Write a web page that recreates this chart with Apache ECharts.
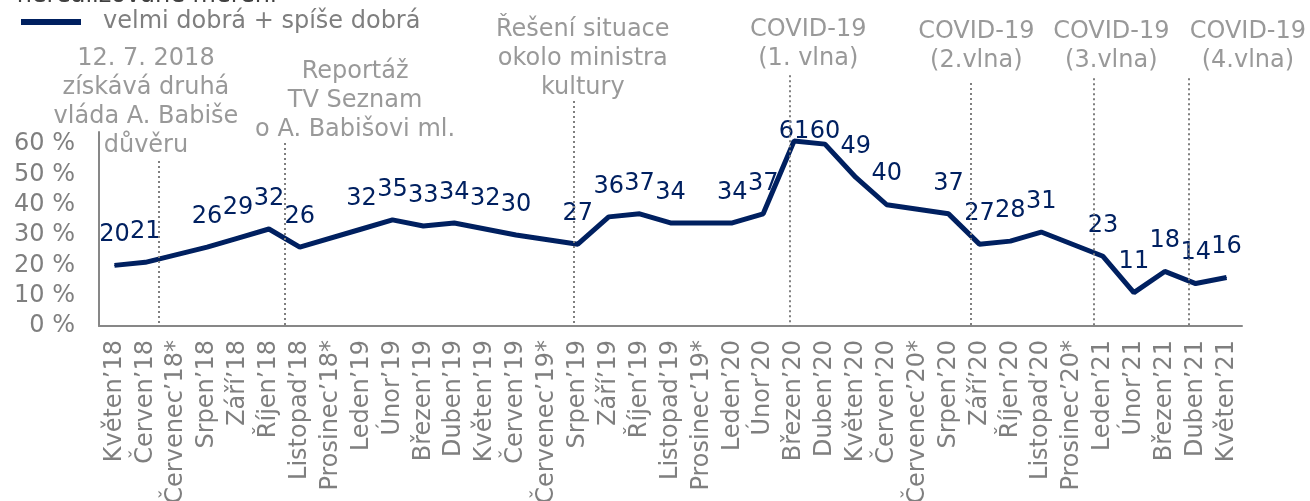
<!DOCTYPE html>
<html>
  <head>
    <meta charset="utf-8" />
    <script src="https://cdn.jsdelivr.net/npm/echarts@6.0.0/dist/echarts.min.js"></script>
  </head>
  <body style="margin: 0">
    <div id="main" style="width: 1310px; height: 501px"></div>

    <script type="text/javascript">
      // months on the x axis (* = no survey that month)
      var months = [
        "Květen’18", "Červen’18", "Červenec’18*", "Srpen’18", "Září’18", "Říjen’18",
        "Listopad’18", "Prosinec’18*", "Leden’19", "Únor’19", "Březen’19", "Duben’19",
        "Květen’19", "Červen’19", "Červenec’19*", "Srpen’19", "Září’19", "Říjen’19",
        "Listopad’19", "Prosinec’19*", "Leden’20", "Únor’20", "Březen’20", "Duben’20",
        "Květen’20", "Červen’20", "Červenec’20*", "Srpen’20", "Září’20", "Říjen’20",
        "Listopad’20", "Prosinec’20*", "Leden’21", "Únor’21", "Březen’21", "Duben’21",
        "Květen’21"
      ];

      // velmi dobrá + spíše dobrá, in %
      var goodShare = [
        20, 21, null, 26, 29, 32,
        26, null, 32, 35, 33, 34,
        32, 30, null, 27, 36, 37,
        34, null, 34, 37, 61, 60,
        49, 40, null, 37, 27, 28,
        31, null, 23, 11, 18, 14,
        16
      ];

      // events: where the dotted line sits (in month units) and how high it reaches (%)
      var eventAt = [1.93, 6.01, 15.37, 22.37, 28.23, 32.21, 35.29];
      var eventTop = [54.5, 60.4, 74.3, 82.8, 80.2, 81.8, 81.8];
      var eventText = [
        "12. 7. 2018\nzískává druhá\nvláda A. Babiše\ndůvěru",
        "Reportáž\nTV Seznam\no A. Babišovi ml.",
        "Řešení situace\nokolo ministra\nkultury",
        "COVID-19\n(1. vlna)",
        "COVID-19\n(2.vlna)",
        "COVID-19\n(3.vlna)",
        "COVID-19\n(4.vlna)"
      ];
      var eventTextX = [1.52, 8.29, 15.66, 22.96, 28.4, 32.77, 37.19];
      var eventTextY = [73.9, 74.4, 88.1, 92.9, 92.2, 92.2, 92.2];

      var gray = "#7f7f7f";
      var navy = "#002060";
      var font = "DejaVu Sans";

      var myChart = echarts.init(document.getElementById("main"));

      var eventLines = eventAt.map(function (x, i) {
        return [{ coord: [x, eventTop[i]] }, { coord: [x, 0] }];
      });
      var eventLabels = eventText.map(function (t, i) {
        return { value: [eventTextX[i], eventTextY[i]], name: t };
      });

      var option = {
        animation: false,
        textStyle: { fontFamily: font },
        title: {
          text: "* nerealizované měření",
          left: -8,
          top: -21,
          textStyle: { fontSize: 24, fontWeight: "normal", color: "#404040", fontFamily: font },
        },
        legend: {
          left: 21,
          top: 10,
          padding: 0,
          icon: "rect",
          itemWidth: 60,
          itemHeight: 6,
          data: ["velmi dobrá + spíše dobrá"],
          textStyle: { color: gray, fontSize: 24, padding: [0, 0, 0, 17], fontFamily: font },
        },
        grid: [
          { left: 99, right: 68, top: 132, bottom: 175, containLabel: false, outerBoundsMode: "none" },
          { left: 99, right: 68, top: 0, bottom: 175, containLabel: false, outerBoundsMode: "none" },
        ],
        xAxis: [
          {
            type: "category",
            gridIndex: 0,
            data: months,
            boundaryGap: true,
            axisTick: { show: false },
            axisLine: { lineStyle: { color: "#878787", width: 2 } },
            axisLabel: {
              interval: 0,
              rotate: 90,
              margin: 14,
              color: gray,
              fontSize: 24,
              fontFamily: font,
            },
          },
          { type: "value", gridIndex: 1, min: 0, max: 37, show: false },
        ],
        yAxis: [
          {
            type: "value",
            gridIndex: 0,
            min: 0,
            max: 64,
            interval: 10,
            splitLine: { show: false },
            axisTick: { show: false },
            axisLine: { show: true, lineStyle: { color: "#878787", width: 2 } },
            axisLabel: {
              showMaxLabel: false,
              formatter: "{value} %",
              margin: 24,
              color: gray,
              fontSize: 24,
              fontFamily: font,
            },
          },
          { type: "value", gridIndex: 1, min: 0, max: 107.6, show: false },
        ],
        series: [
          {
            name: "events",
            type: "scatter",
            xAxisIndex: 1,
            yAxisIndex: 1,
            z: 1,
            clip: false,
            silent: true,
            symbolSize: 1,
            itemStyle: { color: "transparent" },
            data: eventLabels,
            label: {
              show: true,
              position: "inside",
              formatter: "{b}",
              align: "center",
              verticalAlign: "middle",
              color: gray,
              fontSize: 24,
              lineHeight: 29,
              fontFamily: font,
            },
            markLine: {
              silent: true,
              symbol: ["none", "none"],
              label: { show: false },
              lineStyle: { color: gray, type: [2, 3], width: 2 },
              data: eventLines,
            },
          },
          {
            name: "velmi dobrá + spíše dobrá",
            type: "line",
            z: 3,
            clip: false,
            data: goodShare,
            connectNulls: true,
            symbol: "circle",
            symbolSize: 1,
            lineStyle: { color: navy, width: 5 },
            itemStyle: { color: navy },
            label: {
              show: true,
              position: "top",
              distance: 18,
              color: navy,
              fontSize: 24,
              fontFamily: font,
            },
            // keep value labels from rising above the plot area
            labelLayout: function (params) {
              var r = params.labelRect;
              if (r.y < 120) return { dy: 120 - r.y };
              return {};
            },
          },
        ],
      };

      myChart.setOption(option);
    </script>
  </body>
</html>
